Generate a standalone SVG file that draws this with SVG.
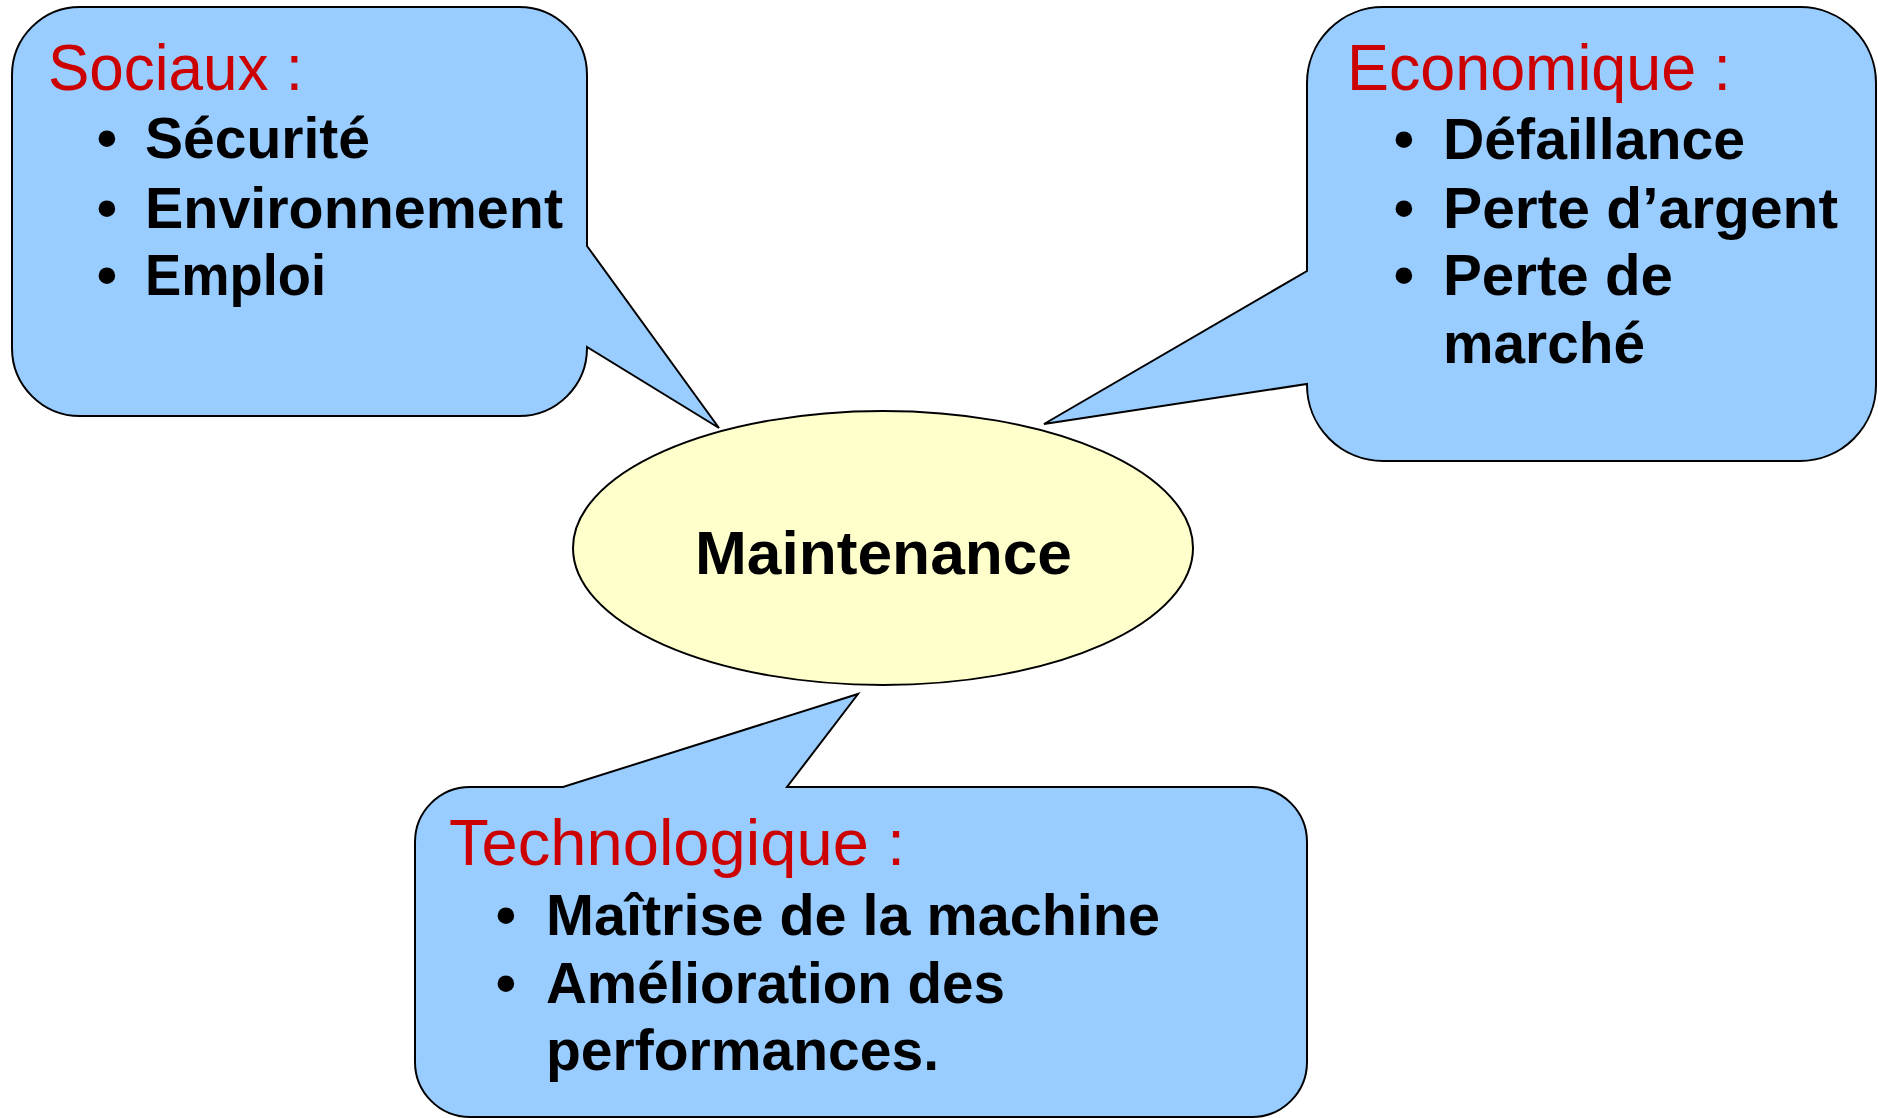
<svg xmlns="http://www.w3.org/2000/svg" width="1878" height="1118" viewBox="0 0 1878 1118">
<style>
.bubble{fill:#99CCFF;stroke:#000;stroke-width:2;stroke-linejoin:miter}
.ell{fill:#FFFFCC;stroke:#000;stroke-width:2}
.head{font-family:"Liberation Sans",Arial,sans-serif;font-size:64px;fill:#CC0000}
.item{font-family:"Liberation Sans",Arial,sans-serif;font-size:58px;font-weight:bold;fill:#000}
.bul{font-family:"Liberation Sans",Arial,sans-serif;font-size:58px;font-weight:bold;fill:#000;text-anchor:middle}
.center{font-family:"Liberation Sans",Arial,sans-serif;font-size:61px;font-weight:bold;fill:#000}
</style>
<rect width="1878" height="1118" fill="#fff"/>
<g id="connectors"></g>
<g id="sociaux">
<path class="bubble" d="M80,7 H519 A68,68 0 0 1 587,75 V246 L719,428 L587,347 V348 A68,68 0 0 1 519,416 H80 A68,68 0 0 1 12,348 V75 A68,68 0 0 1 80,7 Z"/>
<text class="head" x="48" y="90" textLength="255" lengthAdjust="spacingAndGlyphs">Sociaux :</text>
<text class="bul" x="107" y="158">•</text>
<text class="item" x="145" y="158" textLength="225" lengthAdjust="spacingAndGlyphs">Sécurité</text>
<text class="bul" x="107" y="228">•</text>
<text class="item" x="145" y="228" textLength="418" lengthAdjust="spacingAndGlyphs">Environnement</text>
<text class="bul" x="107" y="295">•</text>
<text class="item" x="145" y="295" textLength="181" lengthAdjust="spacingAndGlyphs">Emploi</text>
</g>
<g id="economique">
<path class="bubble" d="M1383,7 H1800 A76,76 0 0 1 1876,83 V385 A76,76 0 0 1 1800,461 H1383 A76,76 0 0 1 1307,385 V384 L1044,424 L1307,271 V83 A76,76 0 0 1 1383,7 Z"/>
<text class="head" x="1347" y="90" textLength="384" lengthAdjust="spacingAndGlyphs">Economique :</text>
<text class="bul" x="1404" y="159">•</text>
<text class="item" x="1443" y="159" textLength="302" lengthAdjust="spacingAndGlyphs">Défaillance</text>
<text class="bul" x="1404" y="228">•</text>
<text class="item" x="1443" y="228" textLength="395" lengthAdjust="spacingAndGlyphs">Perte d’argent</text>
<text class="bul" x="1404" y="295">•</text>
<text class="item" x="1443" y="295" textLength="230" lengthAdjust="spacingAndGlyphs">Perte de</text>
<text class="item" x="1443" y="363" textLength="202" lengthAdjust="spacingAndGlyphs">marché</text>
</g>
<g id="technologique">
<path class="bubble" d="M470,787 H563 L858,694 L787,787 H1252 A55,55 0 0 1 1307,842 V1062 A55,55 0 0 1 1252,1117 H470 A55,55 0 0 1 415,1062 V842 A55,55 0 0 1 470,787 Z"/>
<text class="head" x="449" y="865" textLength="456" lengthAdjust="spacingAndGlyphs">Technologique :</text>
<text class="bul" x="506" y="935">•</text>
<text class="item" x="546" y="935" textLength="614" lengthAdjust="spacingAndGlyphs">Maîtrise de la machine</text>
<text class="bul" x="506" y="1003">•</text>
<text class="item" x="546" y="1003" textLength="459" lengthAdjust="spacingAndGlyphs">Amélioration des</text>
<text class="item" x="546" y="1070" textLength="393" lengthAdjust="spacingAndGlyphs">performances.</text>
</g>
<g id="maintenance">
<ellipse class="ell" cx="883" cy="548" rx="310" ry="137"/>
<text class="center" x="695" y="574" textLength="377" lengthAdjust="spacingAndGlyphs">Maintenance</text>
</g>
</svg>
